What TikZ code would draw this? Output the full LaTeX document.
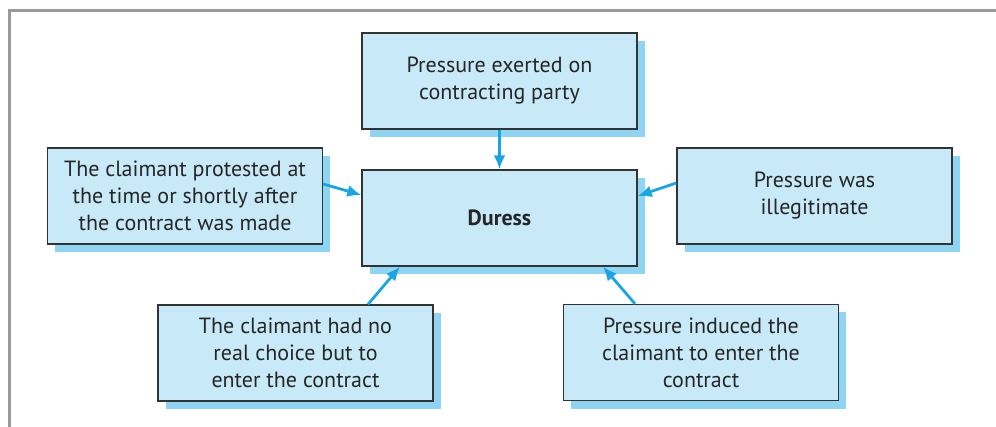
\documentclass[tikz,border=0pt]{standalone}
\usepackage{fontspec}
\setmainfont{PT Sans}
\usetikzlibrary{arrows.meta,shadows,calc}
\definecolor{boxfill}{HTML}{C7E9F8}
\definecolor{shadowblue}{HTML}{8DD5F2}
\definecolor{arrowblue}{HTML}{17A6E3}
\definecolor{framegray}{HTML}{9A9A9E}
\definecolor{edgegray}{HTML}{333333}
\begin{document}
\begin{tikzpicture}[x=0.5pt,y=-0.5pt,
  box/.style={rectangle, draw=edgegray, line width=0.7pt, fill=boxfill,
    minimum width=137.5pt, minimum height=48pt, inner sep=0pt,
    align=center, font=\fontsize{11}{13.5}\selectfont, text=black!85,
    general shadow={fill=shadowblue, shadow xshift=3.75pt, shadow yshift=-4pt}},
  conn/.style={draw=arrowblue, line width=1.4pt, -{Latex[length=7pt,width=6pt]}}]
\useasboundingbox (0,0) rectangle (996,427);
\draw[framegray, line width=1.5pt] (9,428) -- (9,11) -- (997,11);
\node[box] (T) at (499.5,81) {Pressure exerted on\\contracting party};
\node[box] (D) at (499.5,218) {\textbf{Duress}};
\node[box] (L) at (185,196) {The claimant protested at\\the time or shortly after\\the contract was made};
\node[box] (R) at (814.5,196) {Pressure was\\illegitimate};
\node[box] (BL) at (295.5,353) {The claimant had no\\real choice but to\\enter the contract};
\node[box] (BR) at (701,352.5) {Pressure induced the\\claimant to enter the\\contract};
\draw[conn] (T.south) -- (D.north);
\draw[conn] ($(L.east)+(0,-12)$) -- ($(D.west)+(0,-23)$);
\draw[conn] ($(R.west)+(0,-13)$) -- ($(D.east)+(0,-22)$);
\draw[conn] ($(BL.north)+(72.5,0)$) -- ($(D.south)+(-99.5,0)$);
\draw[conn] ($(BR.north)+(-66,0)$) -- ($(D.south)+(103.5,0)$);
\end{tikzpicture}
\end{document}
